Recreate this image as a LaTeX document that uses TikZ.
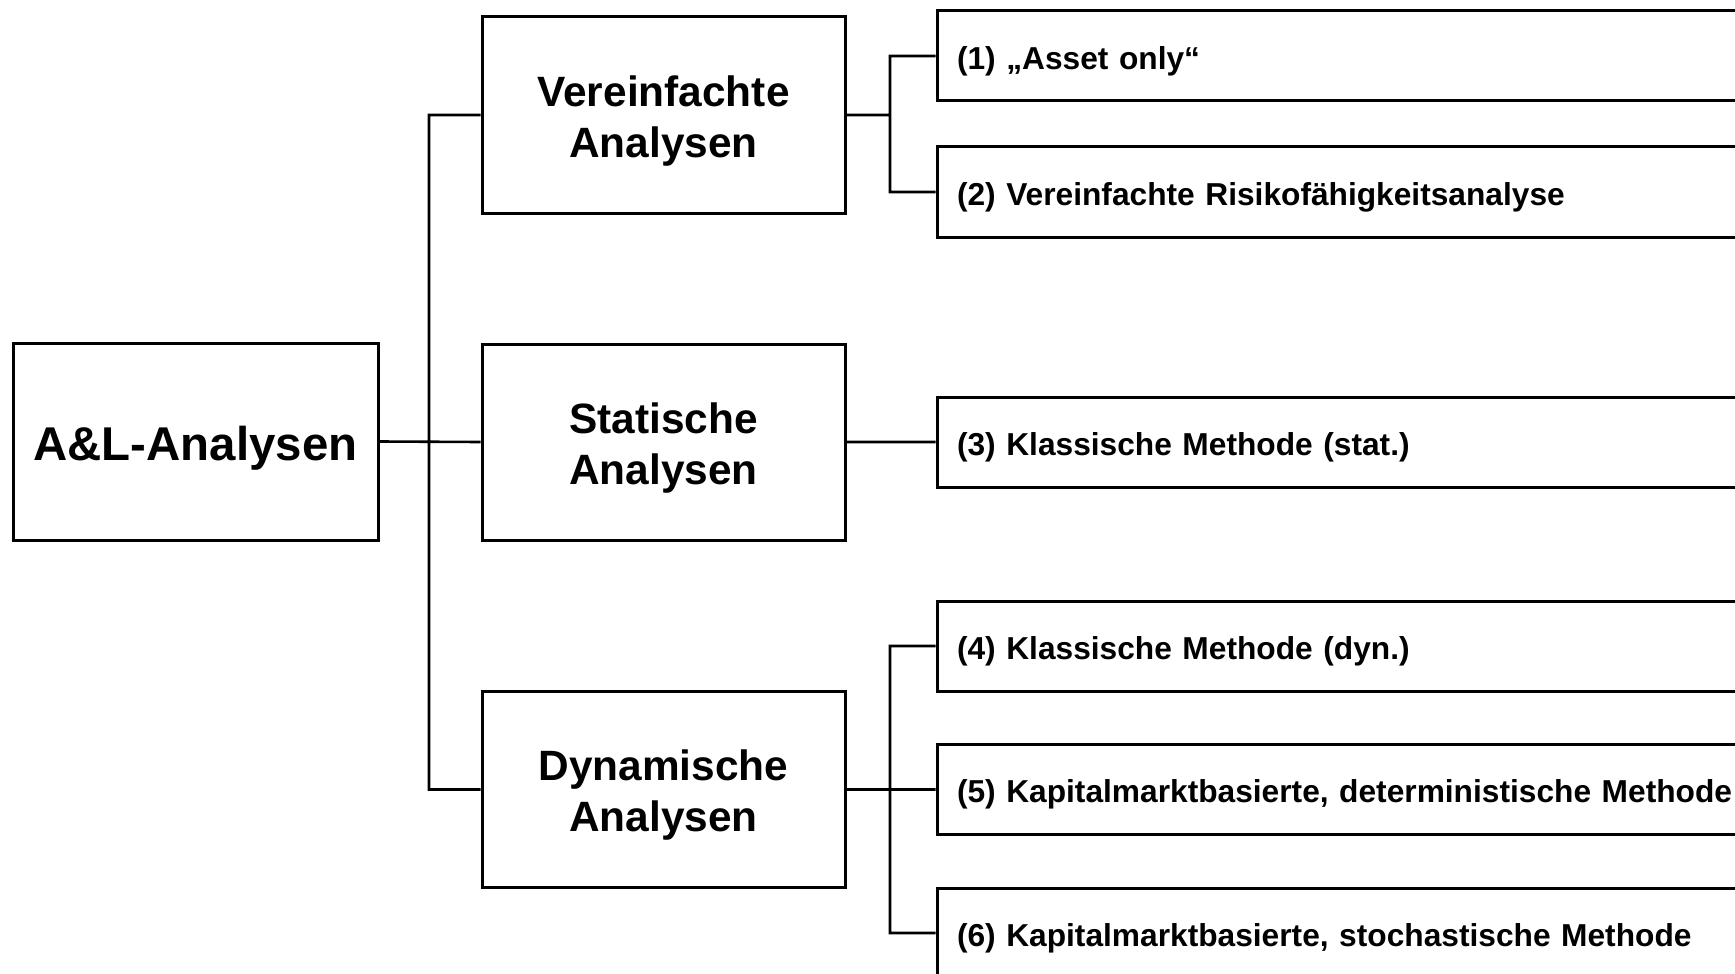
\documentclass[tikz,border=0pt]{standalone}
\usepackage{fontspec}
\setmainfont{Liberation Sans}
\usetikzlibrary{positioning}

\tikzset{
  topbox/.style={draw, line width=1.5pt, minimum width=182.5pt, minimum height=98.5pt, inner sep=0pt, text height=20pt, text depth=1.34pt, font=\bfseries\fontsize{23.7}{28}\selectfont},
  midbox/.style={draw, line width=1.5pt, minimum width=181.5pt, minimum height=98pt, inner sep=0pt, align=center, font=\bfseries\fontsize{21.2}{25.5}\selectfont},
  methbox/.style={draw, line width=1.5pt, anchor=west, text width=395pt, inner xsep=10pt, inner ysep=0pt, minimum height=45pt, align=left, text height=14pt, text depth=0.8pt, font=\bfseries\fontsize{15.85}{19}\selectfont},
  link/.style={line width=1.3pt}
}

\begin{document}
\begin{tikzpicture}[x=0.5pt, y=-0.5pt]
                        \clip (0,0) rectangle (1735,974);

                        \node[topbox] (root) at (195.5, 441.5) {A\&L-Analysen};

                        % strut on the first line pushes the two lines down a bit
                        \node[midbox] (verein) at (663.5, 115) {\rule{0pt}{21pt}Vereinfachte\\Analysen};
                        \node[midbox] (stat) at (663.5, 442) {\rule{0pt}{21pt}Statische\\Analysen};
                        \node[midbox] (dyn) at (663.5, 789.5) {\rule{0pt}{21pt}Dynamische\\Analysen};

                        \node[methbox] (m1) at (935.5, 56) {(1) „Asset only“};
                        \node[methbox] (m2) at (935.5, 192) {(2) Vereinfachte Risikofähigkeitsanalyse};
                        \node[methbox] (m3) at (935.5, 442) {(3) Klassische Methode (stat.)};
                        \node[methbox] (m4) at (935.5, 646) {(4) Klassische Methode (dyn.)};
                        \node[methbox] (m5) at (935.5, 789.5) {(5) Kapitalmarktbasierte, deterministische Methode};
                        \node[methbox] (m6) at (935.5, 933) {(6) Kapitalmarktbasierte, stochastische Methode};

                        \coordinate (trunk) at (429, 441.5);
                        \coordinate (j1) at (890, 115);
                        \coordinate (j2) at (890, 789.5);

                        \draw[link]
                        (root.east) -- (stat.west)
                        (verein.west) -- (verein.west -| trunk) -- (dyn.west -| trunk) -- (dyn.west)
                        (verein.east) -- (j1)
                        (m1.west) -| (j1) |- (m2.west)
                        (stat.east) -- (m3.west)
                        (dyn.east) -- (j2) -- (m5.west)
                        (m4.west) -| (j2) |- (m6.west);
                    \end{tikzpicture}
\end{document}
